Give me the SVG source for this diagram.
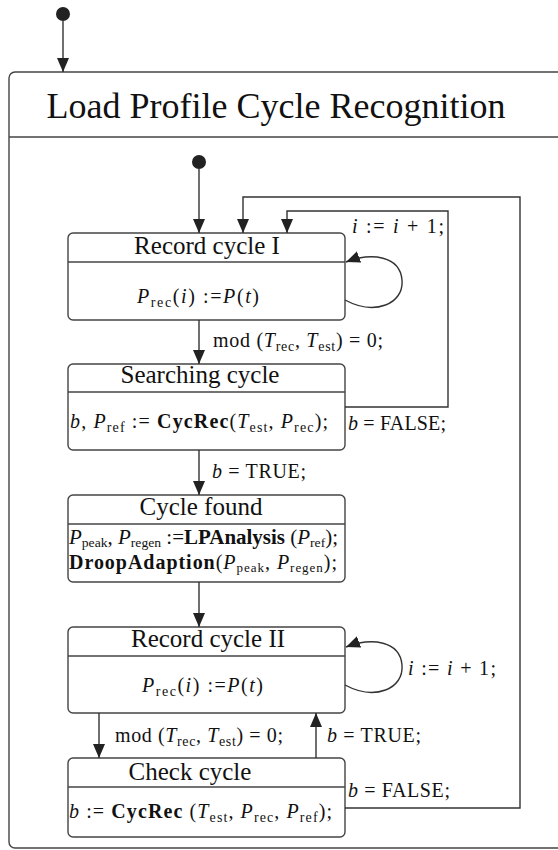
<svg xmlns="http://www.w3.org/2000/svg" width="558" height="850" viewBox="0 0 558 850">
<style>
text{font-family:"Liberation Serif","Times New Roman",serif;fill:#111;}
.title{font-size:36px;text-anchor:middle;}
.ntitle{font-size:25px;text-anchor:middle;}
.body{font-size:20px;}
.lbl{font-size:20px;}
.i{font-style:italic;}
.b{font-weight:bold;}
.sub{font-size:14px;}
.sub2{font-size:13px;}
.box{fill:#fff;stroke:#444;stroke-width:1.4;}
.sep{stroke:#444;stroke-width:1.4;}
.edge{fill:none;stroke:#333;stroke-width:1.4;}
</style>
<defs>
<marker id="arr" markerUnits="userSpaceOnUse" markerWidth="16" markerHeight="14" refX="14" refY="6" orient="auto">
<path d="M0,0 L14,6 L0,12 z" fill="#222"/>
</marker>
</defs>
<rect width="558" height="850" fill="#fff"/>

<g id="outer">
<rect x="9" y="72" width="600" height="776" rx="6" class="box"/>
<line x1="9" y1="137" x2="558" y2="137" class="sep"/>
<text class="title" x="276" y="118">Load Profile Cycle Recognition</text>
</g>

<g id="init-outer"><circle cx="63" cy="14" r="7" fill="#222"/></g>
<g id="init-inner"><circle cx="199" cy="162" r="7" fill="#222"/></g>

<g id="record1">
<rect x="68" y="233" width="277" height="87" rx="5" class="box"/>
<line x1="68" y1="262" x2="345" y2="262" class="sep"/>
<text class="ntitle" x="207" y="254">Record cycle I</text>
<text class="body" x="137" y="303" textLength="122"><tspan class="i">P</tspan><tspan class="sub" dy="4">rec</tspan><tspan dy="-4">(</tspan><tspan class="i">i</tspan>) :=<tspan class="i">P</tspan>(<tspan class="i">t</tspan>)</text>
</g>

<g id="searching">
<rect x="68" y="364" width="277" height="86" rx="5" class="box"/>
<line x1="68" y1="392" x2="345" y2="392" class="sep"/>
<text class="ntitle" x="200" y="383">Searching cycle</text>
<text class="body" x="70" y="428" textLength="258"><tspan class="i">b</tspan>, <tspan class="i">P</tspan><tspan class="sub" dy="4">ref</tspan><tspan dy="-4"> := </tspan><tspan class="b">CycRec</tspan>(<tspan class="i">T</tspan><tspan class="sub" dy="4">est</tspan><tspan dy="-4">, </tspan><tspan class="i">P</tspan><tspan class="sub" dy="4">rec</tspan><tspan dy="-4">);</tspan></text>
</g>

<g id="found">
<rect x="68" y="495" width="277" height="87" rx="5" class="box"/>
<line x1="68" y1="524" x2="345" y2="524" class="sep"/>
<text class="ntitle" x="201" y="515">Cycle found</text>
<text class="body" x="69" y="544" textLength="269" lengthAdjust="spacingAndGlyphs"><tspan class="i">P</tspan><tspan class="sub2" dy="3">peak</tspan><tspan dy="-3">, </tspan><tspan class="i">P</tspan><tspan class="sub2" dy="3">regen</tspan><tspan dy="-3"> :=</tspan><tspan class="b">LPAnalysis</tspan> (<tspan class="i">P</tspan><tspan class="sub2" dy="3">ref</tspan><tspan dy="-3">);</tspan></text>
<text class="body" x="69" y="569" textLength="268"><tspan class="b">DroopAdaption</tspan>(<tspan class="i">P</tspan><tspan class="sub2" dy="3">peak</tspan><tspan dy="-3">, </tspan><tspan class="i">P</tspan><tspan class="sub2" dy="3">regen</tspan><tspan dy="-3">);</tspan></text>
</g>

<g id="record2">
<rect x="68" y="627" width="277" height="86" rx="5" class="box"/>
<line x1="68" y1="656" x2="345" y2="656" class="sep"/>
<text class="ntitle" x="208" y="647">Record cycle II</text>
<text class="body" x="142" y="692" textLength="121"><tspan class="i">P</tspan><tspan class="sub" dy="4">rec</tspan><tspan dy="-4">(</tspan><tspan class="i">i</tspan>) :=<tspan class="i">P</tspan>(<tspan class="i">t</tspan>)</text>
</g>

<g id="check">
<rect x="68" y="758" width="277" height="79" rx="5" class="box"/>
<line x1="68" y1="787" x2="345" y2="787" class="sep"/>
<text class="ntitle" x="190" y="780">Check cycle</text>
<text class="body" x="69" y="818" textLength="263"><tspan class="i">b</tspan> := <tspan class="b">CycRec</tspan> (<tspan class="i">T</tspan><tspan class="sub" dy="4">est</tspan><tspan dy="-4">, </tspan><tspan class="i">P</tspan><tspan class="sub" dy="4">rec</tspan><tspan dy="-4">, </tspan><tspan class="i">P</tspan><tspan class="sub" dy="4">ref</tspan><tspan dy="-4">);</tspan></text>
</g>

<g id="connectors">
<path class="edge" d="M63,21 V72" marker-end="url(#arr)"/>
<path class="edge" d="M199,169 V233" marker-end="url(#arr)"/>
<path class="edge" d="M345,300 C375,316 404,304 402,280 C400,256 372,252 346,262" marker-end="url(#arr)"/>
<path class="edge" d="M199,320 V364" marker-end="url(#arr)"/>
<path class="edge" d="M345,407 H448 V211 H287 V233" marker-end="url(#arr)"/>
<path class="edge" d="M199,450 V495" marker-end="url(#arr)"/>
<path class="edge" d="M199,582 V627" marker-end="url(#arr)"/>
<path class="edge" d="M345,685 C375,701 404,689 402,665 C400,641 372,637 346,647" marker-end="url(#arr)"/>
<path class="edge" d="M99,713 V758" marker-end="url(#arr)"/>
<path class="edge" d="M316,758 V713" marker-end="url(#arr)"/>
<path class="edge" d="M345,808 H520 V197 H243 V233" marker-end="url(#arr)"/>

<text class="lbl" x="352" y="233" textLength="92"><tspan class="i">i</tspan> := <tspan class="i">i</tspan> + 1;</text>
<text class="lbl" x="213" y="347" textLength="170">mod (<tspan class="i">T</tspan><tspan class="sub" dy="4">rec</tspan><tspan dy="-4">, </tspan><tspan class="i">T</tspan><tspan class="sub" dy="4">est</tspan><tspan dy="-4">) = 0;</tspan></text>
<text class="lbl" x="348" y="430" textLength="98"><tspan class="i">b</tspan> = FALSE;</text>
<text class="lbl" x="212" y="478" textLength="94"><tspan class="i">b</tspan> = TRUE;</text>
<text class="lbl" x="408" y="675" textLength="88"><tspan class="i">i</tspan> := <tspan class="i">i</tspan> + 1;</text>
<text class="lbl" x="115" y="742" textLength="168">mod (<tspan class="i">T</tspan><tspan class="sub" dy="4">rec</tspan><tspan dy="-4">, </tspan><tspan class="i">T</tspan><tspan class="sub" dy="4">est</tspan><tspan dy="-4">) = 0;</tspan></text>
<text class="lbl" x="327" y="742" textLength="94"><tspan class="i">b</tspan> = TRUE;</text>
<text class="lbl" x="348" y="797" textLength="102"><tspan class="i">b</tspan> = FALSE;</text>
</g>
</svg>
